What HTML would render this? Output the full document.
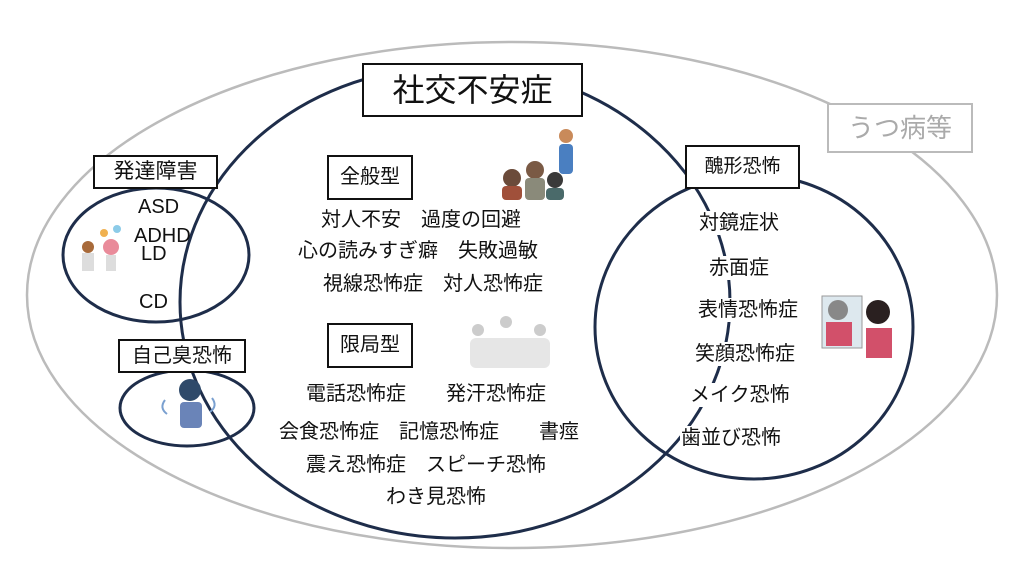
<!DOCTYPE html>
<html><head><meta charset="utf-8"><style>
body{margin:0;background:#fff;}
.w{position:relative;width:1024px;height:565px;overflow:hidden;font-family:"Liberation Sans","Noto Sans CJK JP",sans-serif;color:#111;}
svg{position:absolute;left:0;top:0}
.t{position:absolute;font-size:20px;white-space:nowrap;background:#fff;line-height:24px;padding:0 1px}
.b{position:absolute;border:2px solid #111;background:#fff;text-align:center;box-sizing:border-box}
</style></head><body><div class="w">
<svg width="1024" height="565">
<ellipse cx="512" cy="295" rx="485" ry="253" fill="none" stroke="#bbb" stroke-width="2.5"/>
<ellipse cx="455" cy="302" rx="275" ry="236" fill="none" stroke="#1e2d4a" stroke-width="3"/>
<ellipse cx="754" cy="327" rx="159" ry="152" fill="none" stroke="#1e2d4a" stroke-width="3"/>
<ellipse cx="156" cy="255" rx="93" ry="67" fill="none" stroke="#1e2d4a" stroke-width="3"/>
<ellipse cx="187" cy="408" rx="67" ry="38" fill="none" stroke="#1e2d4a" stroke-width="3"/>
<g>
<circle cx="566" cy="136" r="7" fill="#c98a5a"/><rect x="559" y="144" width="14" height="30" rx="4" fill="#4a7fc1"/>
<circle cx="512" cy="178" r="9" fill="#6b4b3a"/><rect x="502" y="186" width="20" height="14" rx="4" fill="#a0503a"/>
<circle cx="535" cy="170" r="9" fill="#7a5a45"/><rect x="525" y="178" width="20" height="22" rx="4" fill="#8a8a7a"/>
<circle cx="555" cy="180" r="8" fill="#3a3a3a"/><rect x="546" y="188" width="18" height="12" rx="4" fill="#4a6a6a"/>
</g>
<g>
<rect x="822" y="296" width="40" height="52" fill="#dde8ee" stroke="#999"/>
<circle cx="838" cy="310" r="10" fill="#888"/><rect x="826" y="322" width="26" height="24" fill="#d2506a"/>
<circle cx="878" cy="312" r="12" fill="#2a2020"/><rect x="866" y="328" width="26" height="30" fill="#d2506a"/>
</g>
<g>
<circle cx="190" cy="390" r="11" fill="#2f4a6a"/><rect x="180" y="402" width="22" height="26" rx="4" fill="#6a84b8"/>
<path d="M165 400 q-6 8 2 14 M212 398 q6 8 -2 14" stroke="#7aa0d0" stroke-width="2" fill="none"/>
</g>
<g>
<circle cx="88" cy="247" r="6" fill="#a86a3a"/><rect x="82" y="253" width="12" height="18" fill="#ddd"/>
<circle cx="111" cy="247" r="8" fill="#e98b9a"/><rect x="106" y="255" width="10" height="16" fill="#ddd"/>
<circle cx="104" cy="233" r="4" fill="#f0b050"/><circle cx="117" cy="229" r="4" fill="#8ccbe8"/>
</g>
<g fill="#ccc">
<circle cx="478" cy="330" r="6"/><circle cx="506" cy="322" r="6"/><circle cx="540" cy="330" r="6"/>
<rect x="470" y="338" width="80" height="30" rx="6" fill="#e6e6e6"/>
</g>
</svg>
<div class="b" style="left:362px;top:63px;width:221px;height:54px;font-size:32px;line-height:50px">社交不安症</div>
<div class="b" style="left:827px;top:103px;width:146px;height:50px;font-size:26px;line-height:46px;border-color:#bbb;color:#aaa">うつ病等</div>
<div class="b" style="left:93px;top:155px;width:125px;height:34px;font-size:21px;line-height:30px">発達障害</div>
<div class="b" style="left:685px;top:145px;width:115px;height:44px;font-size:19px;line-height:40px">醜形恐怖</div>
<div class="b" style="left:327px;top:155px;width:86px;height:45px;font-size:20px;line-height:41px">全般型</div>
<div class="b" style="left:327px;top:323px;width:86px;height:45px;font-size:20px;line-height:41px">限局型</div>
<div class="b" style="left:118px;top:339px;width:128px;height:34px;font-size:20px;line-height:30px">自己臭恐怖</div>
<div class="t" style="left:137px;top:195px">ASD</div>
<div class="t" style="left:133px;top:224px;background:none">ADHD</div>
<div class="t" style="left:140px;top:242px;background:none">LD</div>
<div class="t" style="left:138px;top:290px">CD</div>
<div class="t" style="left:320px;top:208px">対人不安　過度の回避</div>
<div class="t" style="left:297px;top:239px">心の読みすぎ癖　失敗過敏</div>
<div class="t" style="left:322px;top:272px">視線恐怖症　対人恐怖症</div>
<div class="t" style="left:305px;top:382px">電話恐怖症　　発汗恐怖症</div>
<div class="t" style="left:278px;top:420px">会食恐怖症　記憶恐怖症　　書痙</div>
<div class="t" style="left:305px;top:453px">震え恐怖症　スピーチ恐怖</div>
<div class="t" style="left:385px;top:485px">わき見恐怖</div>
<div class="t" style="left:698px;top:211px">対鏡症状</div>
<div class="t" style="left:708px;top:256px">赤面症</div>
<div class="t" style="left:697px;top:298px">表情恐怖症</div>
<div class="t" style="left:694px;top:342px">笑顔恐怖症</div>
<div class="t" style="left:689px;top:383px">メイク恐怖</div>
<div class="t" style="left:680px;top:426px">歯並び恐怖</div>
</div></body></html>
